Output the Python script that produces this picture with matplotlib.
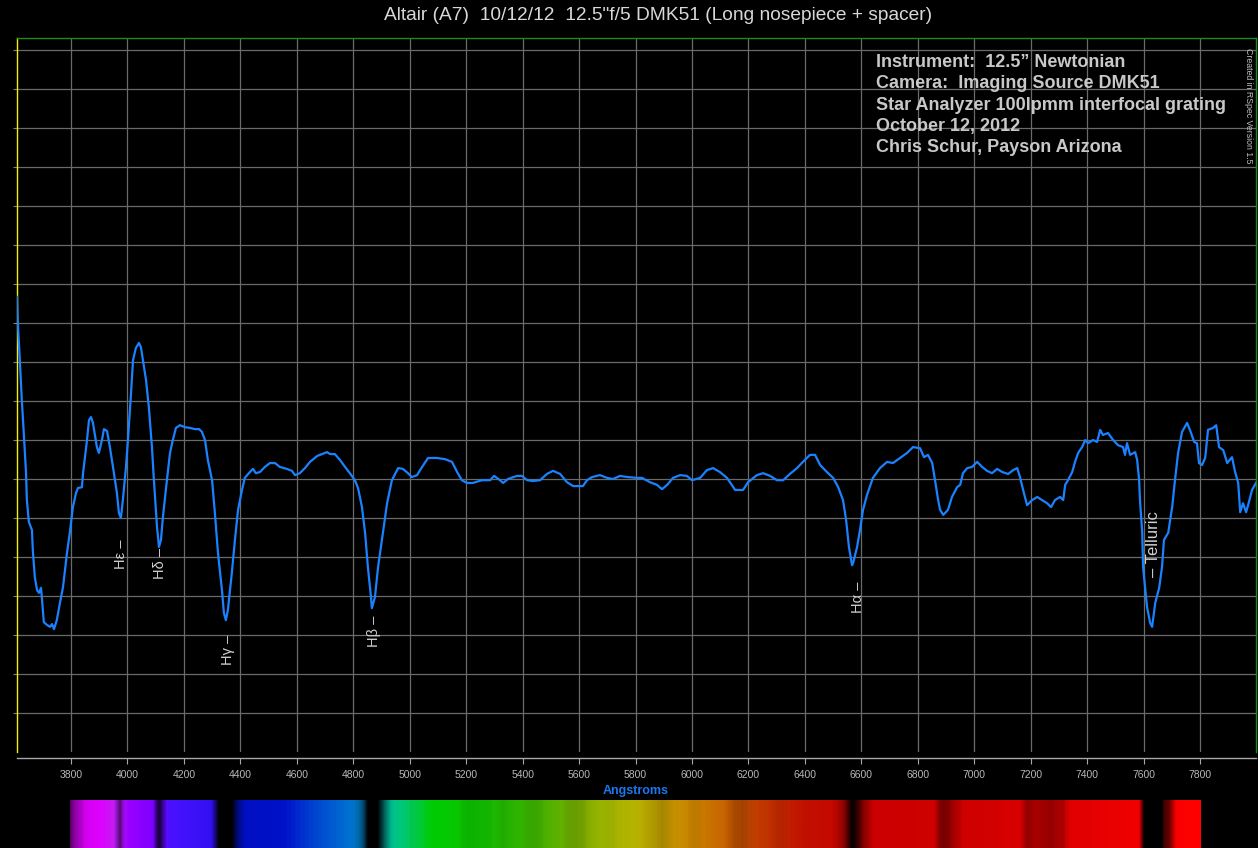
import numpy as np
import matplotlib
matplotlib.use("Agg")
import matplotlib.pyplot as plt
from matplotlib.colors import LinearSegmentedColormap
from matplotlib.transforms import offset_copy

plt.rcParams['font.family'] = ['Liberation Sans', 'DejaVu Sans']

# relative flux (wavelength in Angstroms)
wavelength = [3609, 3612, 3619, 3626, 3633, 3641, 3644, 3651, 3662, 3665,
              3672, 3680, 3687, 3694, 3697, 3704, 3715, 3726, 3733, 3740,
              3750, 3761, 3772, 3786, 3796, 3807, 3818, 3825, 3839, 3843,
              3857, 3864, 3871, 3878, 3892, 3899, 3910, 3917, 3928, 3938,
              3949, 3963, 3970, 3977, 3984, 3995, 4002, 4013, 4020, 4030,
              4041, 4048, 4055, 4066, 4076, 4087, 4094, 4105, 4112, 4119,
              4126, 4140, 4151, 4161, 4172, 4186, 4204, 4222, 4239, 4254,
              4264, 4275, 4285, 4300, 4310, 4321, 4335, 4342, 4349, 4356,
              4370, 4381, 4392, 4406, 4416, 4434, 4445, 4455, 4470, 4487,
              4505, 4523, 4540, 4565, 4583, 4594, 4611, 4629, 4647, 4672,
              4707, 4718, 4735, 4753, 4771, 4788, 4806, 4817, 4831, 4842,
              4852, 4863, 4866, 4877, 4888, 4905, 4920, 4937, 4959, 4976,
              4994, 5008, 5026, 5044, 5065, 5097, 5125, 5150, 5168, 5185,
              5203, 5224, 5256, 5285, 5299, 5320, 5331, 5348, 5380, 5398,
              5416, 5437, 5462, 5486, 5508, 5533, 5557, 5579, 5614, 5628,
              5646, 5674, 5699, 5720, 5745, 5773, 5805, 5823, 5851, 5876,
              5894, 5912, 5933, 5958, 5982, 6000, 6029, 6053, 6075, 6099,
              6124, 6153, 6181, 6199, 6230, 6252, 6277, 6301, 6323, 6347,
              6372, 6393, 6418, 6436, 6454, 6478, 6500, 6518, 6535, 6546,
              6556, 6567, 6571, 6585, 6595, 6606, 6620, 6641, 6666, 6691,
              6712, 6737, 6762, 6783, 6808, 6822, 6836, 6851, 6861, 6872,
              6879, 6890, 6907, 6921, 6939, 6950, 6960, 6975, 6992, 7010,
              7028, 7045, 7063, 7081, 7099, 7120, 7138, 7152, 7162, 7173,
              7187, 7205, 7223, 7240, 7258, 7272, 7286, 7304, 7315, 7322,
              7332, 7347, 7357, 7368, 7382, 7393, 7403, 7421, 7435, 7446,
              7456, 7474, 7492, 7509, 7527, 7534, 7541, 7552, 7570, 7577,
              7584, 7587, 7595, 7598, 7605, 7612, 7623, 7630, 7641, 7655,
              7665, 7672, 7687, 7701, 7711, 7722, 7736, 7754, 7768, 7779,
              7789, 7796, 7807, 7818, 7828, 7846, 7857, 7867, 7882, 7896,
              7913, 7924, 7935, 7942, 7952, 7963, 7970, 7984, 7998]
flux = [1.167, 1.100, 1.005, 0.903, 0.818, 0.715, 0.646, 0.590, 0.569, 0.518,
        0.449, 0.415, 0.408, 0.421, 0.397, 0.333, 0.326, 0.321, 0.328, 0.315,
        0.338, 0.382, 0.423, 0.510, 0.562, 0.628, 0.664, 0.677, 0.679, 0.715,
        0.800, 0.851, 0.859, 0.844, 0.782, 0.767, 0.800, 0.828, 0.823, 0.782,
        0.731, 0.664, 0.613, 0.600, 0.646, 0.731, 0.800, 0.921, 1.005, 1.036,
        1.049, 1.038, 1.005, 0.954, 0.885, 0.782, 0.697, 0.577, 0.526, 0.544,
        0.603, 0.697, 0.767, 0.800, 0.831, 0.838, 0.833, 0.831, 0.828, 0.828,
        0.821, 0.800, 0.749, 0.697, 0.613, 0.510, 0.415, 0.356, 0.338, 0.364,
        0.459, 0.544, 0.621, 0.672, 0.703, 0.718, 0.726, 0.715, 0.718, 0.731,
        0.741, 0.741, 0.731, 0.726, 0.721, 0.710, 0.715, 0.728, 0.744, 0.759,
        0.769, 0.764, 0.764, 0.749, 0.731, 0.715, 0.697, 0.677, 0.628, 0.562,
        0.474, 0.397, 0.369, 0.397, 0.474, 0.562, 0.638, 0.697, 0.728, 0.726,
        0.715, 0.705, 0.710, 0.731, 0.754, 0.754, 0.751, 0.744, 0.718, 0.697,
        0.690, 0.690, 0.697, 0.697, 0.708, 0.697, 0.690, 0.700, 0.708, 0.708,
        0.697, 0.695, 0.697, 0.713, 0.721, 0.713, 0.692, 0.682, 0.682, 0.697,
        0.705, 0.710, 0.703, 0.700, 0.708, 0.705, 0.703, 0.703, 0.692, 0.685,
        0.674, 0.685, 0.703, 0.710, 0.708, 0.697, 0.703, 0.723, 0.728, 0.718,
        0.703, 0.672, 0.672, 0.692, 0.710, 0.715, 0.708, 0.697, 0.697, 0.713,
        0.728, 0.744, 0.762, 0.762, 0.736, 0.718, 0.703, 0.679, 0.646, 0.595,
        0.526, 0.479, 0.485, 0.526, 0.569, 0.621, 0.659, 0.703, 0.728, 0.744,
        0.741, 0.754, 0.767, 0.782, 0.779, 0.756, 0.762, 0.741, 0.697, 0.646,
        0.621, 0.608, 0.621, 0.654, 0.679, 0.685, 0.715, 0.728, 0.731, 0.744,
        0.731, 0.721, 0.715, 0.726, 0.718, 0.713, 0.723, 0.728, 0.705, 0.672,
        0.633, 0.646, 0.654, 0.646, 0.638, 0.628, 0.646, 0.654, 0.646, 0.685,
        0.697, 0.718, 0.744, 0.767, 0.782, 0.800, 0.792, 0.800, 0.795, 0.826,
        0.813, 0.818, 0.800, 0.787, 0.782, 0.762, 0.792, 0.762, 0.769, 0.749,
        0.697, 0.646, 0.562, 0.474, 0.423, 0.372, 0.331, 0.321, 0.382, 0.421,
        0.474, 0.544, 0.562, 0.628, 0.697, 0.767, 0.821, 0.844, 0.818, 0.795,
        0.792, 0.741, 0.736, 0.754, 0.826, 0.831, 0.838, 0.782, 0.774, 0.741,
        0.756, 0.718, 0.690, 0.615, 0.638, 0.615, 0.633, 0.672, 0.690]

line_names = ['H\u03b5 \u2013', 'H\u03b4 \u2013', 'H\u03b3 \u2013', 'H\u03b2 \u2013', 'H\u03b1 \u2013', '\u2013 Telluric']
line_wl = [3968, 4105, 4346, 4863, 6578, 7623]
line_label_y = [0.544, 0.523, 0.300, 0.349, 0.436, 0.449]

ticks = list(range(3800, 7801, 200))

info = ("Instrument:  12.5\u201d Newtonian\n"
        "Camera:  Imaging Source DMK51\n"
        "Star Analyzer 100lpmm interfocal grating\n"
        "October 12, 2012\n"
        "Chris Schur, Payson Arizona")

# spectrum strip colours
strip_wl = [3800, 3860, 3900, 3950, 4000, 4080, 4150, 4300, 4380, 4550, 4650,
            4780, 4850, 4920, 4980, 5080, 5250, 5450, 5650, 5800, 5950, 6100,
            6250, 6400, 6600, 7000, 7400, 7800]
strip_col = ['#b000c8', '#d800f4', '#e000ff', '#c020f0', '#9a00ff', '#8000ff',
             '#4a10ff', '#3010f0', '#0010c0', '#0010c8', '#0040d0', '#0070d0',
             '#0088c8', '#00c0a0', '#00c870', '#00cc00', '#10c000', '#40b000',
             '#90b400', '#bcb800', '#c89000', '#c86800', '#c03800', '#c01000',
             '#cc0000', '#d00000', '#e40000', '#ff0000']

fig = plt.figure(figsize=(12.58, 8.48), dpi=100, facecolor='black')
W, H = 1258.0, 848.0
ax = fig.add_axes([17 / W, 1 - 752 / H, 1239 / W, 714 / H], facecolor='black')

ax.plot(wavelength, flux, color='#1a82ff', lw=1.6, zorder=3)
ax.set_xlim(3609, 7998)
ax.set_ylim(0, 1.831)

ax.set_xticks(ticks)
ax.set_xticklabels([str(t) for t in ticks])
ax.set_yticks(np.arange(1, 19) / 10.0)
ax.set_yticklabels([])
ax.grid(True, color='#6a6a6a', lw=0.9)
ax.tick_params(axis='x', colors='#a8a8a8', labelcolor='#b8b8b8', labelsize=7.5,
               length=4.3, width=0.8, pad=4)
ax.tick_params(axis='y', colors='#808080', length=3, width=0.8)

ax.spines['left'].set_color('#f0f000')
ax.spines['top'].set_color('#1a8a1a')
ax.spines['right'].set_color('#1a8a1a')
ax.spines['bottom'].set_color('#a8a8a8')
ax.spines['bottom'].set_position(('outward', 4.3))
for s in ax.spines.values():
    s.set_linewidth(1.0)

label_tr = offset_copy(ax.transData, fig=fig, x=3, y=0, units='dots')
for name, wl, ly in zip(line_names, line_wl, line_label_y):
    if name.endswith('Telluric'):
        ax.text(wl, ly, name, rotation=90, ha='center', va='bottom',
                color='#d0d0d0', fontsize=12, transform=label_tr, zorder=4)
    else:
        ax.text(wl, ly, name, rotation=90, ha='center', va='top',
                color='#d0d0d0', fontsize=10.5, transform=label_tr, zorder=4)

fig.text(658 / W, 1 - 16 / H, "Altair (A7)  10/12/12  12.5\"f/5 DMK51 (Long nosepiece + spacer)",
         ha='center', va='center', color='#d8d8d8', fontsize=13.8)
fig.text(876 / W, 1 - 54 / H, info, ha='left', va='top', color='#c8c8c8',
         fontsize=13, fontweight='bold', linespacing=1.33)
fig.text(1249 / W, 1 - 106 / H, "Created in RSpec Version 1.5", rotation=-90,
         ha='center', va='center', color='#c0c0c0', fontsize=6.3)
fig.text(636 / W, 1 - 791 / H, "Angstroms", ha='center', va='center',
         color='#1a78f0', fontsize=9, fontweight='bold')

# synthetic spectrum strip, brightness follows the measured flux
sax = fig.add_axes([70 / W, 0, 1131 / W, 48 / H])
cmap = LinearSegmentedColormap.from_list(
    'spec', [((w - 3800) / 4000.0, c) for w, c in zip(strip_wl, strip_col)])
grid_wl = np.linspace(3800, 7800, 1200)
rgb = cmap((grid_wl - 3800) / 4000.0)[:, :3]
bright = np.clip((np.interp(grid_wl, wavelength, flux) - 0.47) / 0.24, 0, 1)
img = (rgb * bright[:, None])[None, :, :]
sax.imshow(img, aspect='auto', extent=(3800, 7800, 0, 1), interpolation='bilinear')
sax.axis('off')

fig.savefig('out.png', dpi=100, facecolor='black')
